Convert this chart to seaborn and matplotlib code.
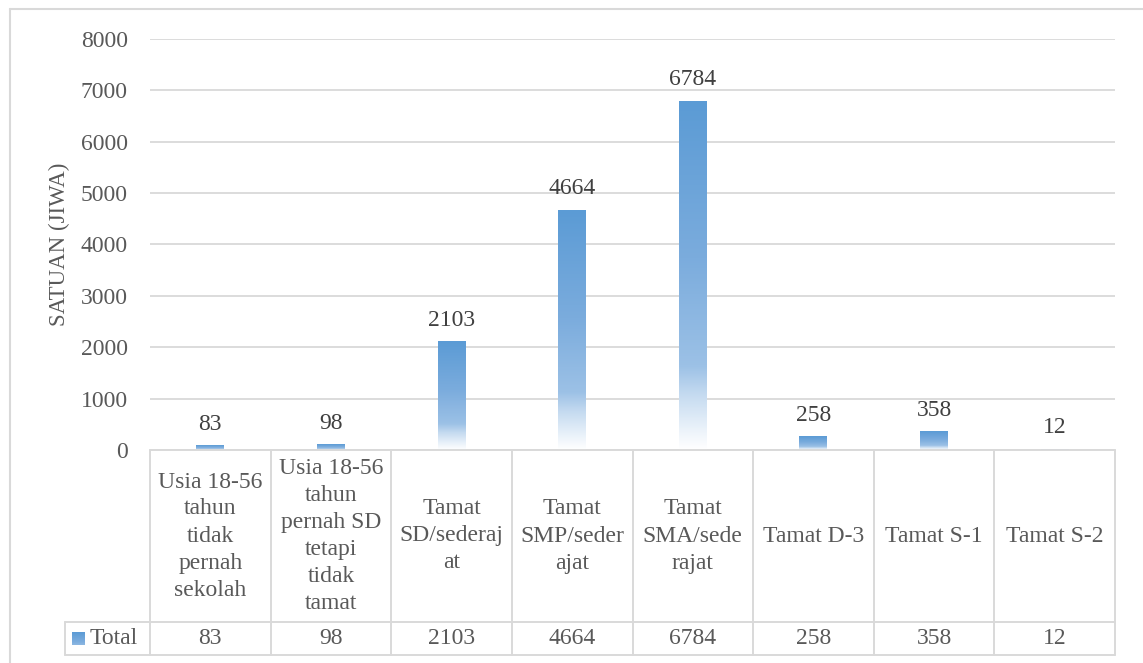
import numpy as np
import pandas as pd
import matplotlib
matplotlib.use("Agg")
import matplotlib.pyplot as plt
import seaborn as sns
from matplotlib.colors import LinearSegmentedColormap
from matplotlib.lines import Line2D
from matplotlib.transforms import blended_transform_factory

# ---- data -------------------------------------------------------------
categories = [
    "Usia 18-56\ntahun\ntidak\npernah\nsekolah",
    "Usia 18-56\ntahun\npernah SD\ntetapi\ntidak\ntamat",
    "Tamat\nSD/sederaj\nat",
    "Tamat\nSMP/seder\najat",
    "Tamat\nSMA/sede\nrajat",
    "Tamat D-3",
    "Tamat S-1",
    "Tamat S-2",
]
values = [83, 98, 2103, 4664, 6784, 258, 358, 12]
series_name = "Total"
y_ticks = [0, 1000, 2000, 3000, 4000, 5000, 6000, 7000, 8000]
y_label = "SATUAN (JIWA)"

# ---- style ------------------------------------------------------------
sns.set_theme(style="white")
plt.rcParams["font.family"] = ["Liberation Serif", "DejaVu Serif"]

BLUE = "#5B9BD5"
GRID = "#D9D9D9"
TEXT = "#595959"
LABEL = "#404040"
FS = 17

W, H = 1143, 663
fig = plt.figure(figsize=(W / 100, H / 100), dpi=100)
fig.patch.set_facecolor("white")

# plot area in pixels: x 150..1115, y 39..450
ax = fig.add_axes([150 / W, 1 - 450 / H, 965 / W, 411 / H])

df = pd.DataFrame({"category": categories, "value": values})
sns.barplot(data=df, x="category", y="value", color=BLUE, saturation=1,
            width=0.232, ax=ax)

# vertical gradient fill: blue at the top of each bar fading to white at its base
grad_cmap = LinearSegmentedColormap.from_list(
    "bar_grad",
    [(0.0, "#FFFFFF"), (0.06, "#EAF2FA"), (0.16, "#C4DAF0"),
     (0.24, "#9CC1E6"), (0.55, "#7BACDD"), (1.0, BLUE)],
)
grad = np.linspace(0, 1, 256).reshape(-1, 1)
for p in ax.patches:
    x0, w, h = p.get_x(), p.get_width(), p.get_height()
    ax.imshow(grad, cmap=grad_cmap, origin="lower", aspect="auto",
              extent=[x0, x0 + w, 0, h], interpolation="bilinear",
              zorder=p.get_zorder())
    p.set_facecolor("none")
    p.set_edgecolor("none")

ax.set_xlim(-0.5, len(categories) - 0.5)
ax.set_ylim(0, 8000)
ax.set_yticks(y_ticks)
ax.set_xticks([])
ax.set_xlabel("")
ax.yaxis.grid(True, color=GRID, lw=1.3)
ax.set_axisbelow(True)
for s in ax.spines.values():
    s.set_visible(False)
ax.tick_params(axis="y", length=0, pad=16, labelsize=FS, labelcolor=TEXT)

ax.set_ylabel(y_label, fontsize=16.5, color=TEXT)
ax.yaxis.set_label_coords(-0.083, 0.5)

# value labels above bars
for i, v in enumerate(values):
    ax.annotate(f"{v}", (i, v), xytext=(0, 11.5), textcoords="offset points",
                ha="center", va="baseline", fontsize=FS, color=LABEL)

# ---- data table under the axis ---------------------------------------
tr = blended_transform_factory(ax.transData, ax.transAxes)
ax_h = 411.0
col_w = 965.0 / len(categories)


def ay(ypx):
    return (450 - ypx) / ax_h


y_top, y_mid, y_bot = ay(450), ay(622), ay(655)
x_left = -0.5 - 85 / col_w
x_end = len(categories) - 0.5

line_kw = dict(color=GRID, lw=1.4, transform=tr, clip_on=False)
ax.add_line(Line2D([-0.5, x_end], [y_top, y_top], **line_kw))
ax.add_line(Line2D([x_left, x_end], [y_mid, y_mid], **line_kw))
ax.add_line(Line2D([x_left, x_end], [y_bot, y_bot], **line_kw))
for k in range(len(categories) + 1):
    xb = -0.5 + k
    ax.add_line(Line2D([xb, xb], [y_top, y_bot], **line_kw))
ax.add_line(Line2D([x_left, x_left], [y_mid, y_bot], **line_kw))

for i, (cat, v) in enumerate(zip(categories, values)):
    ax.text(i, ay(536), cat, transform=tr, ha="center", va="center",
            fontsize=FS, color=TEXT, linespacing=1.375, clip_on=False)
    ax.text(i, ay(638), f"{v}", transform=tr, ha="center", va="center",
            fontsize=FS, color=TEXT, clip_on=False)

ax.text(-0.5 - 60 / col_w, ay(638), series_name, transform=tr, ha="left",
        va="center", fontsize=FS, color=TEXT, clip_on=False)

# legend key swatch in the table's row header
key_ax = fig.add_axes([72 / W, 1 - 645 / H, 13 / W, 13 / H])
key_ax.imshow(grad, cmap=grad_cmap, origin="lower", aspect="auto",
              extent=[0, 1, 0, 1], vmin=-0.6, vmax=1)
key_ax.set_axis_off()

# chart area border
fig.add_artist(Line2D([10 / W, 1], [1 - 9 / H, 1 - 9 / H], color=GRID, lw=1.5,
                      transform=fig.transFigure))
fig.add_artist(Line2D([10 / W, 10 / W], [0, 1 - 9 / H], color=GRID, lw=1.5,
                      transform=fig.transFigure))

fig.savefig("out.png", dpi=100)
